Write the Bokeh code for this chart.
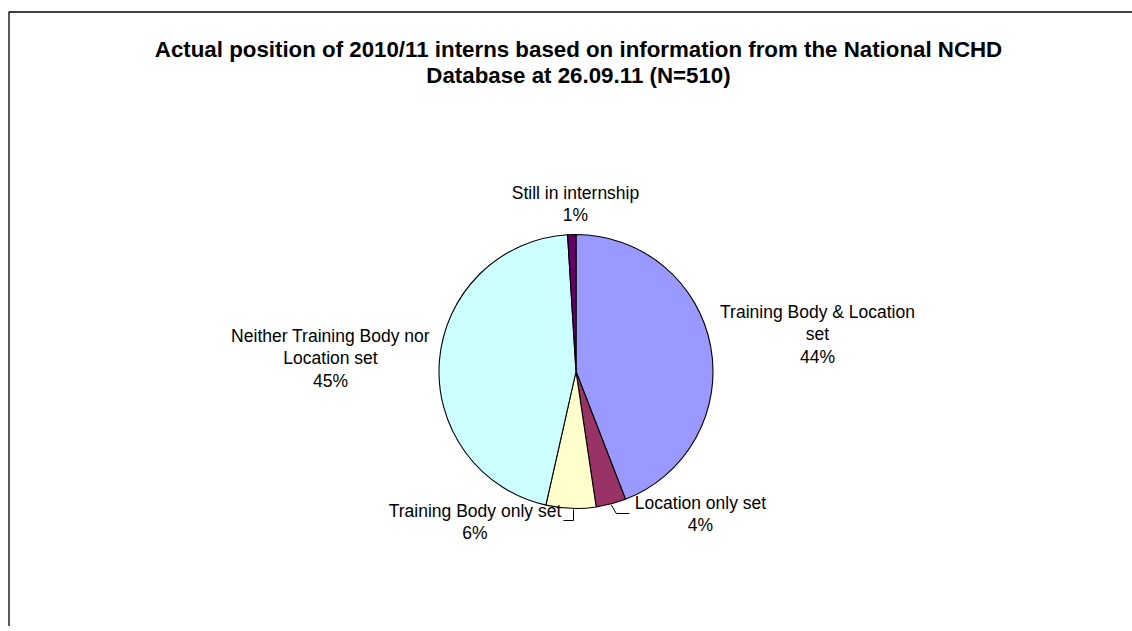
import math
from bokeh.plotting import figure
from bokeh.models import Range1d
from bokeh.core.properties import value
from bokeh.embed import file_html
from bokeh.resources import INLINE

# ---- data ----
title_lines = ["Actual position of 2010/11 interns based on information from the National NCHD",
               "Database at 26.09.11 (N=510)"]
categories = ["Training Body & Location set", "Location only set", "Training Body only set",
              "Neither Training Body nor Location set", "Still in internship"]
label_lines = [["Training Body & Location", "set"], ["Location only set"], ["Training Body only set"],
               ["Neither Training Body nor", "Location set"], ["Still in internship"]]
counts = [225, 18, 30, 232, 5]
colors = ["#9999FF", "#993366", "#FFFFCC", "#CCFFFF", "#660066"]

# ---- layout (screen pixel coords) ----
W, H = 1132, 626
cx, cy, R = 575.5, 371, 137
label_pos = [(817, 311), (700, 502), (474.5, 510), (330, 335), (575, 192)]
LH = 22.5
FONT = value("Liberation Sans")

p = figure(width=W, height=H, output_backend="svg", toolbar_location=None,
           x_range=Range1d(0, W), y_range=Range1d(-H, 0),
           min_border=0, outline_line_color=None)
p.axis.visible = False
p.grid.visible = False
p.background_fill_color = "white"

# frame (continues beyond right/bottom of the page)
p.quad(left=[8.5], right=[3000], top=[-11.5], bottom=[-3000], fill_color=None,
       line_color="black", line_width=1.3)

# title
for i, t in enumerate(title_lines):
    p.text(x=[578], y=[-(49 + 26 * i)], text=[t], text_font=FONT, text_font_style="bold",
           text_font_size="22.3px", text_align="center", text_baseline="middle", text_color="black")

# pie
total = sum(counts)
cum = 0.0
mids = []
for c, col in zip(counts, colors):
    a0 = math.pi / 2 - 2 * math.pi * (cum + c) / total
    a1 = math.pi / 2 - 2 * math.pi * cum / total
    mids.append((a0 + a1) / 2)
    p.wedge(x=[cx], y=[-cy], radius=R, start_angle=[a0], end_angle=[a1],
            fill_color=col, line_color="black", line_width=1.1)
    cum += c

# labels
for i, (lines, c) in enumerate(zip(label_lines, counts)):
    pct = f"{round(100 * c / total):.0f}%"
    all_lines = lines + [pct]
    lx, ly = label_pos[i]
    for j, t in enumerate(all_lines):
        p.text(x=[lx], y=[-(ly + LH * j)], text=[t], text_font=FONT, text_font_size="17.5px",
               text_align="center", text_baseline="middle", text_color="black")

# leader lines for the two small bottom slices
for i, (ex_dx, ey, tx) in [(1, (5, 513, 629)), (2, (0, 520, 563))]:
    m = mids[i]
    sx = cx + (R + 1) * math.cos(m)
    sy = cy - (R + 1) * math.sin(m)
    if i == 2:
        sx = cx - 2.5
    p.line(x=[sx, sx + ex_dx, tx], y=[-sy, -ey, -ey], line_color="black", line_width=1)

open("out.html", "w").write(file_html(p, INLINE))
